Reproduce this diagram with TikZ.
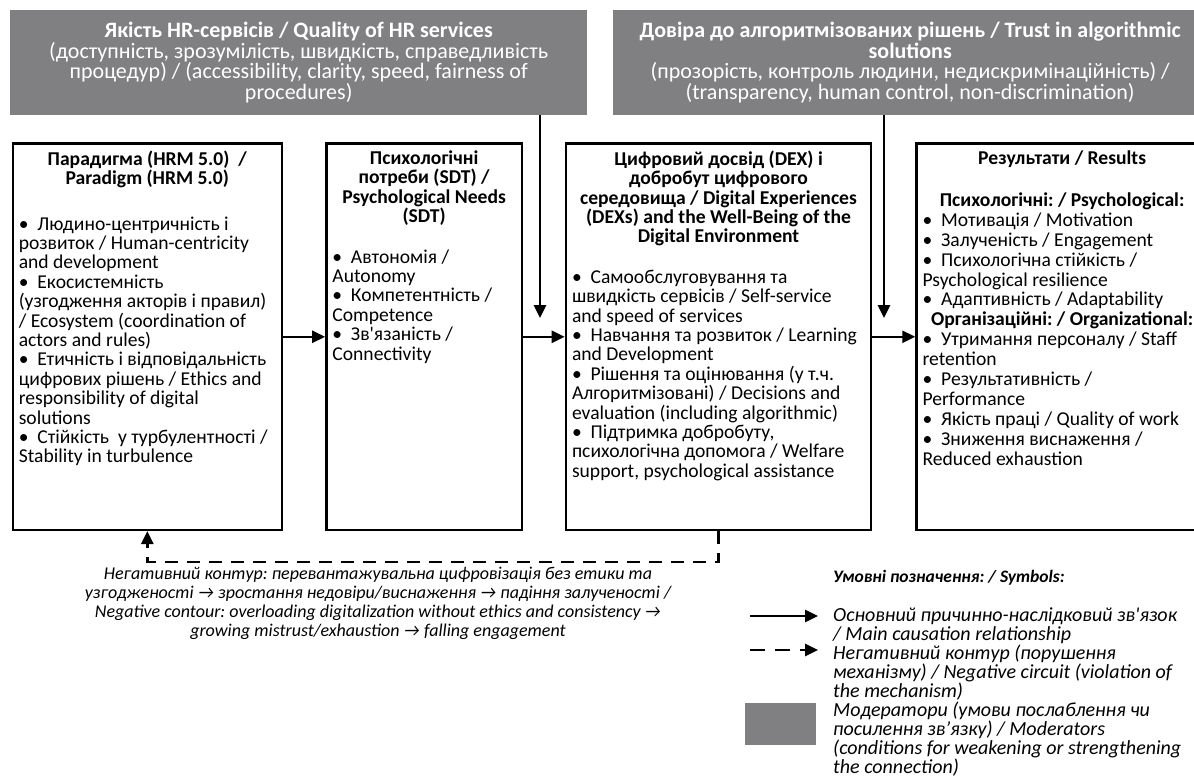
\documentclass[tikz,border=0pt]{standalone}
\usepackage{fontspec}
\setmainfont{Carlito}[Ligatures=TeXOff]
\usetikzlibrary{arrows.meta, positioning}

\definecolor{modgray}{RGB}{128,128,131}

\newcommand{\bul}{\textbullet\hspace{0.45em}}
\newcommand{\boxbody}[2]{\parbox[t][372pt][t]{#1}{#2}}

\frenchspacing

\begin{document}
\begin{tikzpicture}[
        x=1pt, y=-1pt,
        every node/.style={font=\fontsize{19.6}{19.4}\selectfont},
        modbox/.style={
                fill=modgray,
                text=white,
                anchor=north west,
                align=center,
                minimum height=105pt,
                inner sep=0pt,
                font=\fontsize{22}{20.5}\selectfont
            },
        stagebox/.style={
                draw,
                line width=2.6pt,
                inner xsep=6pt,
                inner ysep=7pt,
                minimum height=386pt
            },
        flow/.style={
                -{Triangle[length=13pt,width=12pt]},
                line width=2.6pt
            },
        negloop/.style={
                flow,
                dash pattern=on 13pt off 9pt
            },
        legtext/.style={
                anchor=north west,
                align=left,
                inner sep=0pt,
                font=\fontsize{20}{18.8}\selectfont\itshape
            }
    ]

    \useasboundingbox (0,0) rectangle (1194,778);

    % moderators
    \node[modbox, minimum width=577pt] (quality) at (10,10)
    {
        \textbf{Якість HR-сервісів / Quality of HR services}\\
        (доступність, зрозумілість, швидкість, справедливість\\
        процедур) / (accessibility, clarity, speed, fairness of\\
        procedures)
    };

    \node[modbox, minimum width=594pt] (trust) at (613,10)
    {
        \textbf{Довіра до алгоритмізованих рішень / Trust in algorithmic}\\
        \textbf{solutions}\\
        (прозорість, контроль людини, недискримінаційність) /\\
        (transparency, human control, non-discrimination)
    };

    % main chain
    \node[stagebox, anchor=north west] (paradigm) at (11.5,142.5)
    {
        \boxbody{257pt}{%
            \centering
            \textbf{Парадигма (HRM 5.0)~~/}\\
            \textbf{Paradigm (HRM 5.0)}\par
            \vspace{26pt}\raggedright
            \bul Людино-центричність і\\
            розвиток / Human-centricity\\
            and development\\
            \bul Екосистемність\\
            (узгодження акторів і правил)\\
            / Ecosystem (coordination of\\
            actors and rules)\\
            \bul Етичність і відповідальність\\
            цифрових рішень / Ethics and\\
            responsibility of digital\\
            solutions\\
            \bul Стійкість~ у турбулентності /\\
            Stability in turbulence}
    };

    \node[stagebox, right=42pt of paradigm] (sdt)
    {
        \boxbody{183.5pt}{%
            \centering
            \textbf{Психологічні}\\
            \textbf{потреби (SDT) /}\\
            \textbf{Psychological Needs}\\
            \textbf{(SDT)}\par
            \vspace{21pt}\raggedright
            \bul Автономія /\\
            Autonomy\\
            \bul Компетентність /\\
            Competence\\
            \bul Зв'язаність /\\
            Connectivity}
    };

    \node[stagebox, right=41.5pt of sdt] (dex)
    {
        \boxbody{293pt}{%
            \centering
            \textbf{Цифровий досвід (DEX) і}\\
            \textbf{добробут цифрового}\\
            \textbf{середовища / Digital Experiences}\\
            \textbf{(DEXs) and the Well-Being of the}\\
            \textbf{Digital Environment}\par
            \vspace{21pt}\raggedright
            \bul Самообслуговування та\\
            швидкість сервісів / Self-service\\
            and speed of services\\
            \bul Навчання та розвиток / Learning\\
            and Development\\
            \bul Рішення та оцінювання (у т.ч.\\
            Алгоритмізовані) / Decisions and\\
            evaluation (including algorithmic)\\
            \bul Підтримка добробуту,\\
            психологічна допомога / Welfare\\
            support, psychological assistance}
    };

    \node[stagebox, right=43pt of dex] (results)
    {
        \boxbody{279pt}{%
            \fontsize{19.6}{19.9}\selectfont
            \centering
            \textbf{Результати / Results}\par
            \vspace{22pt}
            \textbf{Психологічні: / Psychological:}\par
            \raggedright
            \bul Мотивація / Motivation\\
            \bul Залученість / Engagement\\
            \bul Психологічна стійкість /\\
            Psychological resilience\\
            \bul Адаптивність / Adaptability\par
            \centering
            \textbf{Організаційні: / Organizational:}\par
            \raggedright
            \bul Утримання персоналу / Staff\\
            retention\\
            \bul Результативність /\\
            Performance\\
            \bul Якість праці / Quality of work\\
            \bul Зниження виснаження /\\
            Reduced exhaustion}
    };

    \coordinate (qualitytip) at (540,318);
    \coordinate (trusttip) at (884,318);

    \draw[flow] (quality.south -| qualitytip) -- (qualitytip);
    \draw[flow] (trust.south -| trusttip) -- (trusttip);

    \draw[flow] (paradigm.east) -- (sdt.west);
    \draw[flow] (sdt.east) -- (dex.west);
    \draw[flow] (dex.east) -- (results.west);

    % negative loop
    \draw[negloop] (dex.south) -- ++(0,31) -| (paradigm.south);

    \node[anchor=north, align=center, inner sep=0pt,
        font=\fontsize{18}{19}\selectfont\itshape] (negnote) at (378,567)
    {
        Негативний контур: перевантажувальна цифровізація без етики та\\
        узгодженості → зростання недовіри/виснаження → падіння залученості /\\
        Negative contour: overloading digitalization without ethics and consistency →\\
        growing mistrust/exhaustion → falling engagement
    };

    % legend
    \node[anchor=west, inner sep=0pt,
        font=\fontsize{17.5}{18.8}\selectfont\bfseries\itshape] (legtitle) at (833,578)
    {Умовні позначення: / Symbols:};

    \coordinate (solidfrom) at (750,616);
    \coordinate (solidto) at (818,616);
    \coordinate (dashfrom) at (750,650);
    \coordinate (dashto) at (818,650);

    \draw[flow] (solidfrom) -- (solidto);
    \draw[flow, dash pattern=on 15pt off 10pt] (dashfrom) -- (dashto);

    \node[fill=modgray, anchor=north west, inner sep=0pt,
        minimum width=71pt, minimum height=42pt] (legmod) at (745,703) {};

    \node[legtext] (legsolid) at (833,608)
    {
        Основний причинно-наслідковий зв'язок\\
        / Main causation relationship
    };

    \node[legtext] (legdash) at (833,645)
    {
        Негативний контур (порушення\\
        механізму) / Negative circuit (violation of\\
        the mechanism)
    };

    \node[legtext] (legmodtext) at (833,702)
    {
        Модератори (умови послаблення чи\\
        посилення зв’язку) / Moderators\\
        (conditions for weakening or strengthening\\
        the connection)
    };

\end{tikzpicture}
\end{document}
